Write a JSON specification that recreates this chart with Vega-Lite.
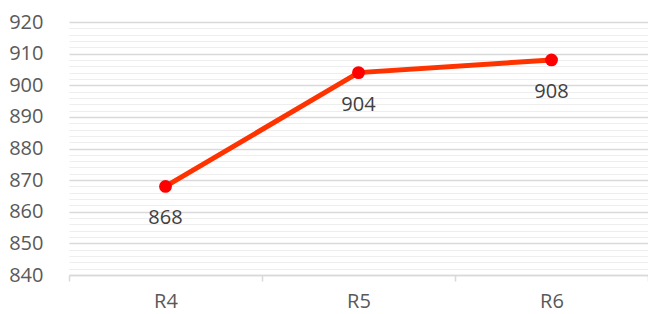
{
  "$schema": "https://vega.github.io/schema/vega-lite/v6.json",
  "autosize": "none",
  "width": 579,
  "height": 253,
  "padding": {"left": 69, "top": 22, "right": 0, "bottom": 39},
  "background": "white",
  "config": {"view": {"stroke": null}, "font": "Open Sans"},
  "data": {"values": [
    {"round": "R4", "value": 868},
    {"round": "R5", "value": 904},
    {"round": "R6", "value": 908}
  ]},
  "encoding": {
    "x": {
      "field": "round", "type": "nominal", "bandPosition": 0.5,
      "scale": {"type": "band", "paddingInner": 0, "paddingOuter": 0},
      "axis": {
        "title": null, "labelAngle": 0, "labelFont": "Open Sans", "labelFontSize": 20,
        "labelColor": "#595959", "domainColor": "#d9d9d9", "domainWidth": 1.5,
        "tickBand": "extent", "tickColor": "#d9d9d9", "tickSize": 6, "tickWidth": 1.5,
        "labelPadding": 10, "grid": false
      }
    },
    "y": {
      "field": "value", "type": "quantitative",
      "scale": {"domain": [840, 920], "nice": false, "zero": false},
      "axis": {
        "title": null,
        "values": [840,842,844,846,848,850,852,854,856,858,860,862,864,866,868,870,872,874,876,878,880,882,884,886,888,890,892,894,896,898,900,902,904,906,908,910,912,914,916,918,920],
        "labelExpr": "datum.value % 10 === 0 ? datum.label : ''",
        "labelFont": "Open Sans", "labelFontSize": 20, "labelColor": "#595959",
        "labelPadding": 26, "ticks": false, "tickSize": 0, "domain": false,
        "grid": true,
        "gridColor": {"condition": {"test": "datum.value % 10 === 0", "value": "#d9d9d9"}, "value": "#eeeeee"},
        "gridWidth": {"condition": {"test": "datum.value % 10 === 0", "value": 1.5}, "value": 1.2},
        "labelOverlap": false
      }
    }
  },
  "layer": [
    {"mark": {"type": "line", "color": "#ff3300", "strokeWidth": 5}},
    {"mark": {"type": "point", "filled": true, "color": "#ff0000", "size": 165, "opacity": 1}},
    {
      "mark": {"type": "text", "dy": 32, "baseline": "middle", "align": "center", "font": "Open Sans", "fontSize": 20, "color": "#404040"},
      "encoding": {"text": {"field": "value", "type": "quantitative"}}
    }
  ]
}
